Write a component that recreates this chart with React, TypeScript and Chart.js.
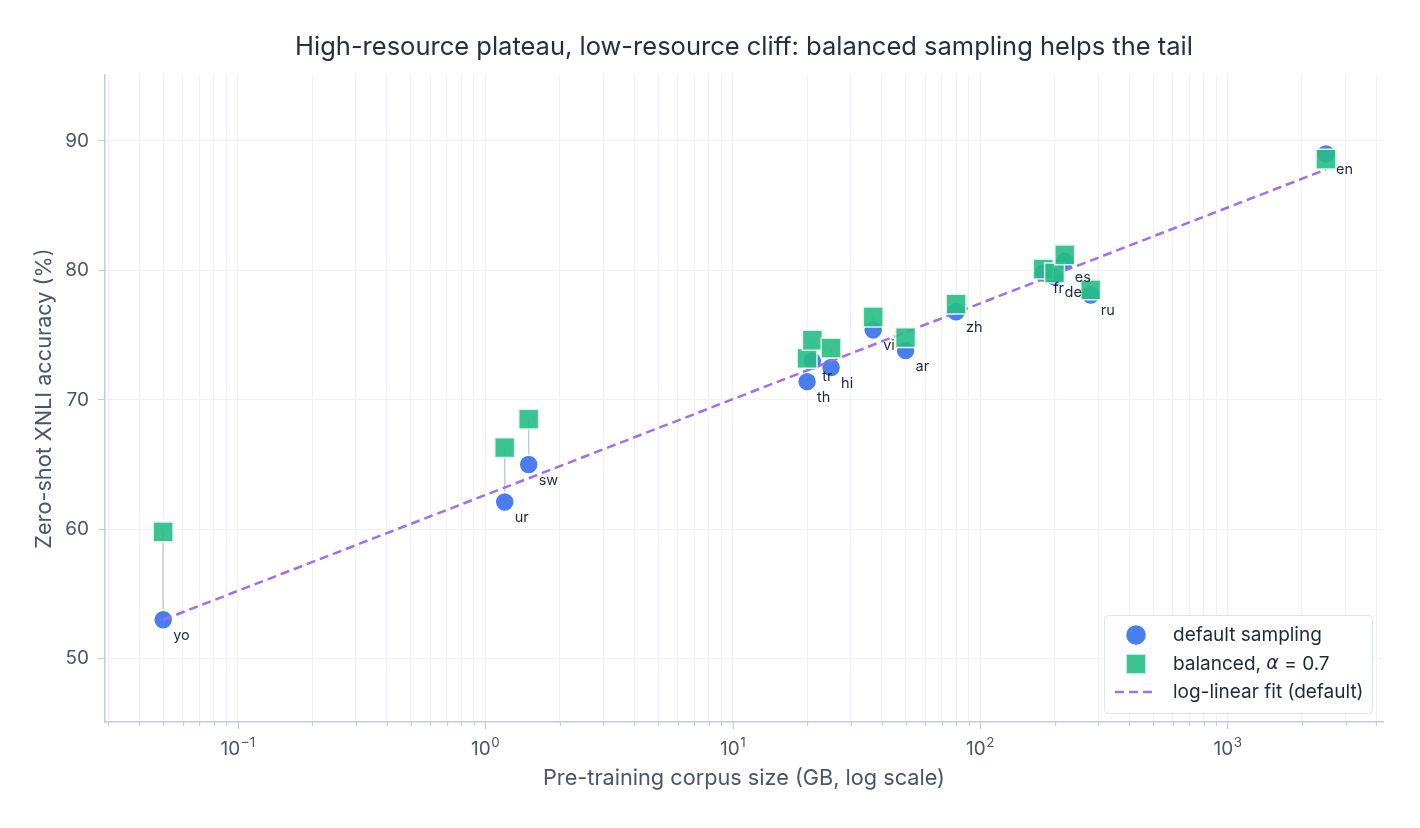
import React, { useEffect, useRef } from "react";
import { Chart, registerables } from "chart.js";

Chart.register(...registerables);

// Per-language corpus size (GB) and zero-shot XNLI accuracy (%)
const languages = ["yo", "ur", "sw", "th", "tr", "hi", "vi", "ar", "zh", "fr", "de", "es", "ru", "en"];
const corpusGB = [0.05, 1.2, 1.5, 20, 21, 25, 37, 50, 80, 180, 200, 220, 280, 2500];
const defaultAcc = [53.0, 62.1, 65.0, 71.4, 73.0, 72.5, 75.4, 73.8, 76.8, 79.8, 79.5, 80.7, 78.1, 89.0];
const balancedAcc = [59.8, 66.3, 68.5, 73.2, 74.6, 74.0, 76.4, 74.8, 77.4, 80.1, 79.8, 81.2, 78.5, 88.6];

// Log-linear fit through the default-sampling results (end points)
const fitX = [0.05, 2500];
const fitY = [53.0, 87.8];

// Axis ticks
const yTicks = [50, 60, 70, 80, 90];
const xDecades = [0.01, 0.1, 1, 10, 100, 1000];
const xMajorTicks = [0.1, 1, 10, 100, 1000];
const xTickBase = "10";
const xTickExponents = ["\u22121", "0", "1", "2", "3"];

const X_MIN = 0.0291;
const X_MAX = 4250;
const Y_MIN = 45.1;
const Y_MAX = 95.1;

const TITLE = "High-resource plateau, low-resource cliff: balanced sampling helps the tail";
const X_TITLE = "Pre-training corpus size (GB, log scale)";
const Y_TITLE = "Zero-shot XNLI accuracy (%)";

const BLUE = "rgba(64, 118, 238, 0.95)";
const GREEN = "rgba(38, 190, 134, 0.9)";
const PURPLE = "#9f6ef2";
const AXIS = "#c4cedb";
const GRID = "#eef2f6";
const TICK_TEXT = "#4a5568";
const DARK = "#1f2937";
const FONT = 'Inter, "Liberation Sans", Arial, sans-serif';

// every 1..9 multiple of each decade inside the visible range
const xAllTicks: number[] = [];
xDecades.forEach((d) => {
  for (let m = 1; m <= 9; m++) {
    const v = +(d * m).toPrecision(6);
    if (v >= X_MIN && v <= X_MAX) xAllTicks.push(v);
  }
});

const isMajor = (v: number) => xMajorTicks.some((m) => Math.abs(m - v) / m < 1e-6);

const overlayPlugin = {
  id: "overlay",
  afterDatasetsDraw(chart: any) {
    const { ctx } = chart;
    const xs = chart.scales.x;
    const ys = chart.scales.y;
    ctx.save();
    ctx.font = `14.5px ${FONT}`;
    ctx.fillStyle = DARK;
    ctx.textAlign = "left";
    ctx.textBaseline = "middle";
    languages.forEach((lang, i) => {
      const px = xs.getPixelForValue(corpusGB[i]);
      const py = ys.getPixelForValue(defaultAcc[i]);
      ctx.fillText(lang, px + 10, py + 16);
    });
    ctx.restore();
  },
  afterDraw(chart: any) {
    const { ctx, chartArea } = chart;
    const xs = chart.scales.x;
    ctx.save();

    // title, centred over the plotting area
    ctx.fillStyle = "#243040";
    ctx.font = `25.5px ${FONT}`;
    ctx.textAlign = "center";
    ctx.textBaseline = "middle";
    ctx.fillText(TITLE, (chartArea.left + chartArea.right) / 2, 47);

    // x tick marks: long at decades, short at minor positions
    ctx.strokeStyle = AXIS;
    ctx.lineWidth = 1.2;
    xAllTicks.forEach((v) => {
      const px = Math.round(xs.getPixelForValue(v)) + 0.5;
      const len = isMajor(v) ? 7 : 4;
      ctx.beginPath();
      ctx.moveTo(px, chartArea.bottom);
      ctx.lineTo(px, chartArea.bottom + len);
      ctx.stroke();
    });

    // x tick labels as 10 with a raised exponent
    ctx.fillStyle = TICK_TEXT;
    ctx.textBaseline = "alphabetic";
    ctx.textAlign = "left";
    xMajorTicks.forEach((v, i) => {
      const px = xs.getPixelForValue(v);
      ctx.font = `19px ${FONT}`;
      const wBase = ctx.measureText(xTickBase).width;
      ctx.font = `13.5px ${FONT}`;
      const wExp = ctx.measureText(xTickExponents[i]).width;
      const left = px - (wBase + wExp) / 2;
      ctx.font = `19px ${FONT}`;
      ctx.fillText(xTickBase, left, chartArea.bottom + 33);
      ctx.font = `13.5px ${FONT}`;
      ctx.fillText(xTickExponents[i], left + wBase + 0.5, chartArea.bottom + 25);
    });

    // legend box in the lower-right corner of the plot
    const bx = 1104.5;
    const by = 615.5;
    const bw = 268;
    const bh = 98;
    ctx.fillStyle = "rgba(255,255,255,0.9)";
    ctx.strokeStyle = "#dfe5ec";
    ctx.lineWidth = 1;
    ctx.beginPath();
    ctx.roundRect(bx, by, bw, bh, 4);
    ctx.fill();
    ctx.stroke();

    const mx = 1136;
    const tx = 1173;
    const rows = [635, 664, 692];

    ctx.fillStyle = BLUE;
    ctx.strokeStyle = "#ffffff";
    ctx.lineWidth = 1.5;
    ctx.beginPath();
    ctx.arc(mx, rows[0], 10.5, 0, Math.PI * 2);
    ctx.fill();
    ctx.stroke();

    ctx.fillStyle = GREEN;
    ctx.strokeStyle = "rgba(235,250,243,1)";
    ctx.beginPath();
    ctx.rect(mx - 10, rows[1] - 10, 20, 20);
    ctx.fill();
    ctx.stroke();

    ctx.strokeStyle = PURPLE;
    ctx.lineWidth = 2.5;
    ctx.setLineDash([9, 5]);
    ctx.beginPath();
    ctx.moveTo(mx - 21, rows[2]);
    ctx.lineTo(mx + 21, rows[2]);
    ctx.stroke();
    ctx.setLineDash([]);

    ctx.fillStyle = DARK;
    ctx.textBaseline = "middle";
    ctx.textAlign = "left";
    ctx.font = `19px ${FONT}`;
    ctx.fillText("default sampling", tx, rows[0]);
    const part1 = "balanced, ";
    ctx.fillText(part1, tx, rows[1]);
    let cx = tx + ctx.measureText(part1).width;
    ctx.font = `italic 19px "DejaVu Sans", ${FONT}`;
    ctx.fillText("\u03b1", cx, rows[1]);
    cx += ctx.measureText("\u03b1").width;
    ctx.font = `19px ${FONT}`;
    ctx.fillText(" = 0.7", cx, rows[1]);
    ctx.fillText("log-linear fit (default)", tx, rows[2]);

    ctx.restore();
  },
};

export default function App() {
  const canvasRef = useRef<HTMLCanvasElement | null>(null);

  useEffect(() => {
    if (!canvasRef.current) return;

    // vertical connectors from each default point to its balanced point
    const connectors: any[] = [];
    corpusGB.forEach((x, i) => {
      connectors.push({ x, y: defaultAcc[i] });
      connectors.push({ x, y: balancedAcc[i] });
      connectors.push({ x, y: null });
    });

    const chart = new Chart(canvasRef.current, {
      type: "scatter",
      data: {
        datasets: [
          {
            type: "line",
            label: "connectors",
            data: connectors,
            borderColor: "#c2cad6",
            borderWidth: 1.5,
            pointRadius: 0,
            spanGaps: false,
            fill: false,
            order: 3,
          },
          {
            label: "default sampling",
            data: corpusGB.map((x, i) => ({ x, y: defaultAcc[i] })),
            backgroundColor: BLUE,
            borderColor: "#ffffff",
            borderWidth: 1.5,
            pointRadius: 9.5,
            pointStyle: "circle",
            order: 2,
          },
          {
            type: "line",
            label: "log-linear fit (default)",
            data: fitX.map((x, i) => ({ x, y: fitY[i] })),
            borderColor: PURPLE,
            borderWidth: 2.5,
            borderDash: [9, 5],
            pointRadius: 0,
            fill: false,
            order: 1,
          },
          {
            label: "balanced, \u03b1 = 0.7",
            data: corpusGB.map((x, i) => ({ x, y: balancedAcc[i] })),
            backgroundColor: GREEN,
            borderColor: "rgba(230,248,240,0.95)",
            borderWidth: 1.5,
            pointRadius: 14,
            pointStyle: "rect",
            order: 0,
          },
        ],
      },
      options: {
        animation: false,
        responsive: false,
        maintainAspectRatio: false,
        layout: { padding: { left: 0, right: 37, top: 75, bottom: 0 } },
        plugins: {
          legend: { display: false },
          tooltip: { enabled: false },
          title: { display: false },
        },
        scales: {
          x: {
            type: "logarithmic",
            min: X_MIN,
            max: X_MAX,
            afterBuildTicks: (s: any) => {
              s.ticks = xAllTicks.map((v) => ({ value: v, major: isMajor(v) }));
            },
            afterFit: (s: any) => {
              s.height = 106;
            },
            ticks: { display: false },
            grid: { color: GRID, lineWidth: 1, drawTicks: false },
            border: { color: AXIS, width: 1.5 },
            title: {
              display: true,
              text: X_TITLE,
              color: TICK_TEXT,
              font: { family: FONT, size: 21.7 },
              padding: { top: 0, bottom: 37 },
            },
          },
          y: {
            type: "linear",
            min: Y_MIN,
            max: Y_MAX,
            afterBuildTicks: (s: any) => {
              s.ticks = yTicks.map((v) => ({ value: v }));
            },
            afterFit: (s: any) => {
              s.width = 105;
            },
            ticks: {
              color: TICK_TEXT,
              font: { family: FONT, size: 19 },
              padding: 9,
            },
            grid: { color: GRID, lineWidth: 1, tickLength: 7, tickColor: AXIS, tickWidth: 1.2 },
            border: { color: AXIS, width: 1.5 },
            title: {
              display: true,
              text: Y_TITLE,
              color: TICK_TEXT,
              font: { family: FONT, size: 21.7 },
              padding: { top: 31, bottom: 0 },
            },
          },
        },
      },
      plugins: [overlayPlugin],
    });

    return () => chart.destroy();
  }, []);

  return (
    <div style={{ position: "fixed", left: 0, top: 0, width: "1420px", height: "828px", background: "#ffffff" }}>
      <canvas ref={canvasRef} width={1420} height={828} style={{ display: "block", width: "1420px", height: "828px" }} />
    </div>
  );
}
